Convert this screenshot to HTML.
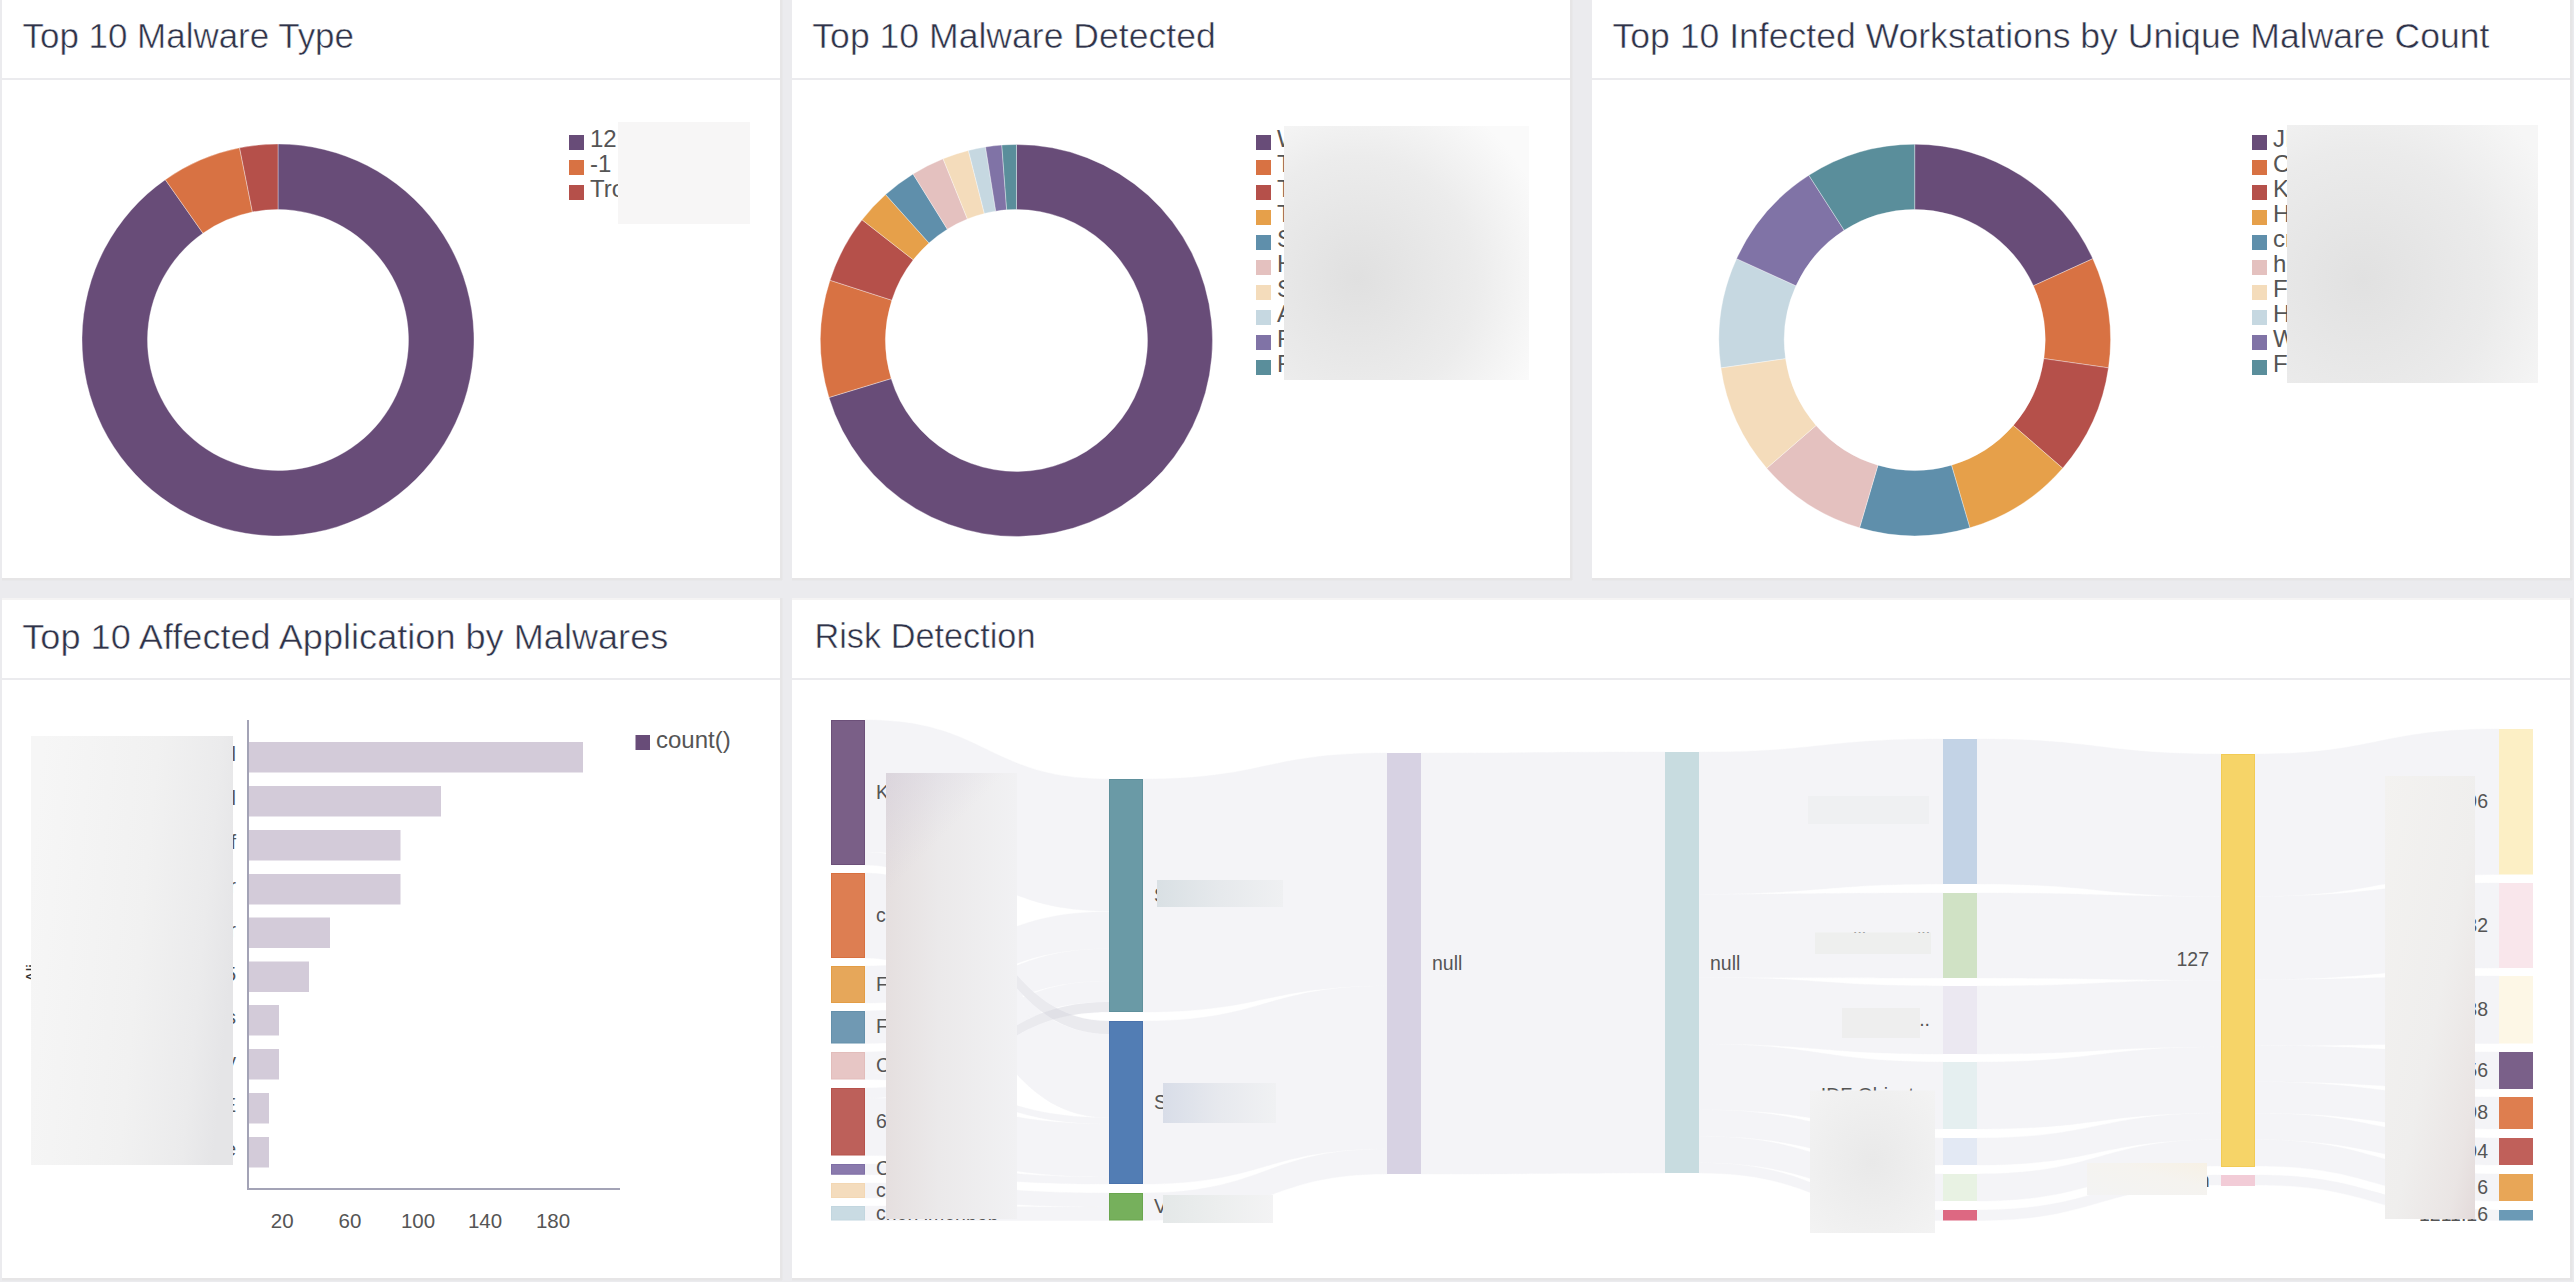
<!DOCTYPE html><html><head><meta charset="utf-8"><style>html,body{margin:0;padding:0;background:#ebebee;overflow:hidden}svg{display:block}</style></head><body><svg width="2574" height="1282" viewBox="0 0 2574 1282" font-family='"Liberation Sans", sans-serif'>
<defs>
<filter id="sh" x="-1%" y="-1%" width="102%" height="102%"><feDropShadow dx="1" dy="1" stdDeviation="1" flood-color="#000" flood-opacity="0.06"/></filter>
<linearGradient id="g2" x1="0" y1="0" x2="1" y2="0.3"><stop offset="0" stop-color="#e3e2e3"/><stop offset="0.45" stop-color="#e6e6e6"/><stop offset="1" stop-color="#fafafa"/></linearGradient>
<radialGradient id="g2r" cx="0.3" cy="0.6" r="0.8"><stop offset="0" stop-color="#e0e0e0"/><stop offset="0.6" stop-color="#ececec"/><stop offset="1" stop-color="#fafafa"/></radialGradient>
<radialGradient id="g3r" cx="0.3" cy="0.6" r="0.85"><stop offset="0" stop-color="#e1e1e1"/><stop offset="0.6" stop-color="#ebebeb"/><stop offset="1" stop-color="#f6f6f6"/></radialGradient>
<linearGradient id="g4r" x1="0" y1="0.3" x2="1" y2="0.5"><stop offset="0" stop-color="#f6f6f6"/><stop offset="0.55" stop-color="#f1f1f1"/><stop offset="0.85" stop-color="#ebebec"/><stop offset="1" stop-color="#e5e5e7"/></linearGradient>
<linearGradient id="g5a" x1="0" y1="0" x2="1" y2="0"><stop offset="0" stop-color="#e5dfdf"/><stop offset="0.4" stop-color="#ebe9ea"/><stop offset="1" stop-color="#f1f1f3"/></linearGradient>
<linearGradient id="g5b" x1="0" y1="0" x2="0.3" y2="1"><stop offset="0" stop-color="#c8c2d8" stop-opacity="0.35"/><stop offset="0.25" stop-color="#c8c2d8" stop-opacity="0"/></linearGradient>
<linearGradient id="gLbl" x1="0" y1="0" x2="1" y2="0"><stop offset="0" stop-color="#d9e0e4"/><stop offset="0.5" stop-color="#e6e9ec"/><stop offset="1" stop-color="#eff0f2"/></linearGradient>
<linearGradient id="gLbl2" x1="0" y1="0" x2="1" y2="0"><stop offset="0" stop-color="#d8dde8"/><stop offset="0.5" stop-color="#e7e9ee"/><stop offset="1" stop-color="#f0f1f3"/></linearGradient>
<linearGradient id="gLbl3" x1="0" y1="0" x2="1" y2="0"><stop offset="0" stop-color="#e4e8e8"/><stop offset="0.5" stop-color="#eceeee"/><stop offset="1" stop-color="#f3f3f4"/></linearGradient>
<linearGradient id="gR" x1="0" y1="0" x2="1" y2="1"><stop offset="0" stop-color="#f3f2f0"/><stop offset="0.55" stop-color="#efeeed"/><stop offset="0.85" stop-color="#eae5e4"/><stop offset="1" stop-color="#e3dada"/></linearGradient>
<linearGradient id="gN" x1="0" y1="1" x2="1" y2="0"><stop offset="0" stop-color="#f3f3f3"/><stop offset="0.6" stop-color="#f5f3ef"/><stop offset="1" stop-color="#f7f1e5"/></linearGradient>
<radialGradient id="gD" cx="0.5" cy="0.5" r="0.7"><stop offset="0" stop-color="#e9e9e9"/><stop offset="1" stop-color="#f3f3f3"/></radialGradient>
</defs>
<rect width="2574" height="1282" fill="#ebebee"/>
<rect x="2" y="578" width="780" height="2.5" fill="#e6e5e6"/>
<rect x="780" y="0" width="2.5" height="580" fill="#e6e5e6"/>
<rect x="2" y="0" width="778" height="578" fill="#ffffff"/>
<rect x="2" y="78" width="778" height="2" fill="#ebebee"/>
<rect x="792" y="578" width="780" height="2.5" fill="#e6e5e6"/>
<rect x="1570" y="0" width="2.5" height="580" fill="#e6e5e6"/>
<rect x="792" y="0" width="778" height="578" fill="#ffffff"/>
<rect x="792" y="78" width="778" height="2" fill="#ebebee"/>
<rect x="1592" y="578" width="980" height="2.5" fill="#e6e5e6"/>
<rect x="2570" y="0" width="2.5" height="580" fill="#e6e5e6"/>
<rect x="1592" y="0" width="978" height="578" fill="#ffffff"/>
<rect x="1592" y="78" width="978" height="2" fill="#ebebee"/>
<rect x="2" y="1278" width="780" height="2.5" fill="#e6e5e6"/>
<rect x="780" y="598" width="2.5" height="682" fill="#e6e5e6"/>
<rect x="2" y="598" width="778" height="680" fill="#ffffff"/>
<rect x="2" y="598" width="778" height="2" fill="#f4f3f3"/>
<rect x="2" y="678" width="778" height="2" fill="#ebebee"/>
<rect x="792" y="1278" width="1780" height="2.5" fill="#e6e5e6"/>
<rect x="2570" y="598" width="2.5" height="682" fill="#e6e5e6"/>
<rect x="792" y="598" width="1778" height="680" fill="#ffffff"/>
<rect x="792" y="598" width="1778" height="2" fill="#f4f3f3"/>
<rect x="792" y="678" width="1778" height="2" fill="#ebebee"/>
<text x="22.5" y="48" font-size="35.5" fill="#2f3349" stroke="#fff" stroke-width="0.5" textLength="331.5" lengthAdjust="spacingAndGlyphs">Top 10 Malware Type</text>
<text x="812.3" y="48" font-size="35.5" fill="#2f3349" stroke="#fff" stroke-width="0.5" textLength="403.5" lengthAdjust="spacingAndGlyphs">Top 10 Malware Detected</text>
<text x="1612.5" y="48" font-size="35.5" fill="#2f3349" stroke="#fff" stroke-width="0.5" textLength="877" lengthAdjust="spacingAndGlyphs">Top 10 Infected Workstations by Unique Malware Count</text>
<text x="22.3" y="648.5" font-size="35.5" fill="#2f3349" stroke="#fff" stroke-width="0.5" textLength="646" lengthAdjust="spacingAndGlyphs">Top 10 Affected Application by Malwares</text>
<text x="814.5" y="648" font-size="35.5" fill="#2f3349" stroke="#fff" stroke-width="0.5" textLength="221" lengthAdjust="spacingAndGlyphs">Risk Detection</text>
<path d="M278.00,144.00A196,196 0 1 1 165.30,179.64L202.96,233.23A130.5,130.5 0 1 0 278.00,209.50Z" fill="#684c78" stroke="#fff" stroke-width="0.35"/>
<path d="M165.30,179.64A196,196 0 0 1 239.59,147.80L252.43,212.03A130.5,130.5 0 0 0 202.96,233.23Z" fill="#d87243" stroke="#fff" stroke-width="0.35"/>
<path d="M239.59,147.80A196,196 0 0 1 278.00,144.00L278.00,209.50A130.5,130.5 0 0 0 252.43,212.03Z" fill="#b5504a" stroke="#fff" stroke-width="0.35"/>
<rect x="569" y="135" width="15" height="15" fill="#684c78"/>
<text x="590" y="146.5" font-size="24" fill="#555555">12</text>
<rect x="569" y="160" width="15" height="15" fill="#d87243"/>
<text x="590" y="171.5" font-size="24" fill="#555555">-1</text>
<rect x="569" y="185" width="15" height="15" fill="#b5504a"/>
<text x="590" y="196.5" font-size="24" fill="#555555">Tro</text>
<rect x="618" y="122" width="132" height="102" fill="#f7f6f6"/>
<path d="M1016.50,144.50A196,196 0 1 1 828.96,397.48L891.16,378.58A131,131 0 1 0 1016.50,209.50Z" fill="#684c78" stroke="#fff" stroke-width="0.35"/>
<path d="M828.96,397.48A196,196 0 0 1 829.99,280.26L891.84,300.24A131,131 0 0 0 891.16,378.58Z" fill="#d87243" stroke="#fff" stroke-width="0.35"/>
<path d="M829.99,280.26A196,196 0 0 1 862.05,219.83L913.27,259.85A131,131 0 0 0 891.84,300.24Z" fill="#b5504a" stroke="#fff" stroke-width="0.35"/>
<path d="M862.05,219.83A196,196 0 0 1 885.60,194.61L929.01,243.00A131,131 0 0 0 913.27,259.85Z" fill="#e6a04a" stroke="#fff" stroke-width="0.35"/>
<path d="M885.60,194.61A196,196 0 0 1 913.07,174.01L947.37,229.22A131,131 0 0 0 929.01,243.00Z" fill="#5f8fab" stroke="#fff" stroke-width="0.35"/>
<path d="M913.07,174.01A196,196 0 0 1 943.08,158.77L967.43,219.04A131,131 0 0 0 947.37,229.22Z" fill="#e4c1bf" stroke="#fff" stroke-width="0.35"/>
<path d="M943.08,158.77A196,196 0 0 1 968.42,150.49L984.36,213.50A131,131 0 0 0 967.43,219.04Z" fill="#f4dcbb" stroke="#fff" stroke-width="0.35"/>
<path d="M968.42,150.49A196,196 0 0 1 985.50,146.97L995.78,211.15A131,131 0 0 0 984.36,213.50Z" fill="#c6d8e1" stroke="#fff" stroke-width="0.35"/>
<path d="M985.50,146.97A196,196 0 0 1 1001.80,145.05L1006.68,209.87A131,131 0 0 0 995.78,211.15Z" fill="#8073a6" stroke="#fff" stroke-width="0.35"/>
<path d="M1001.80,145.05A196,196 0 0 1 1016.50,144.50L1016.50,209.50A131,131 0 0 0 1006.68,209.87Z" fill="#5a8e9b" stroke="#fff" stroke-width="0.35"/>
<rect x="1256" y="135" width="15" height="15" fill="#684c78"/>
<text x="1277" y="146.5" font-size="24" fill="#555555">W</text>
<rect x="1256" y="160" width="15" height="15" fill="#d87243"/>
<text x="1277" y="171.5" font-size="24" fill="#555555">T</text>
<rect x="1256" y="185" width="15" height="15" fill="#b5504a"/>
<text x="1277" y="196.5" font-size="24" fill="#555555">T</text>
<rect x="1256" y="210" width="15" height="15" fill="#e6a04a"/>
<text x="1277" y="221.5" font-size="24" fill="#555555">T</text>
<rect x="1256" y="235" width="15" height="15" fill="#5f8fab"/>
<text x="1277" y="246.5" font-size="24" fill="#555555">S</text>
<rect x="1256" y="260" width="15" height="15" fill="#e4c1bf"/>
<text x="1277" y="271.5" font-size="24" fill="#555555">H</text>
<rect x="1256" y="285" width="15" height="15" fill="#f4dcbb"/>
<text x="1277" y="296.5" font-size="24" fill="#555555">S</text>
<rect x="1256" y="310" width="15" height="15" fill="#c6d8e1"/>
<text x="1277" y="321.5" font-size="24" fill="#555555">A</text>
<rect x="1256" y="335" width="15" height="15" fill="#8073a6"/>
<text x="1277" y="346.5" font-size="24" fill="#555555">F</text>
<rect x="1256" y="360" width="15" height="15" fill="#5a8e9b"/>
<text x="1277" y="371.5" font-size="24" fill="#555555">F</text>
<rect x="1284" y="126" width="245" height="254" fill="url(#g2r)"/>
<path d="M1914.70,144.20A195.8,195.8 0 0 1 2092.81,258.66L2033.41,285.79A130.5,130.5 0 0 0 1914.70,209.50Z" fill="#684c78" stroke="#fff" stroke-width="0.35"/>
<path d="M2092.81,258.66A195.8,195.8 0 0 1 2108.51,367.87L2043.87,358.57A130.5,130.5 0 0 0 2033.41,285.79Z" fill="#d87243" stroke="#fff" stroke-width="0.35"/>
<path d="M2108.51,367.87A195.8,195.8 0 0 1 2062.68,468.22L2013.33,425.46A130.5,130.5 0 0 0 2043.87,358.57Z" fill="#b5504a" stroke="#fff" stroke-width="0.35"/>
<path d="M2062.68,468.22A195.8,195.8 0 0 1 1969.86,527.87L1951.47,465.21A130.5,130.5 0 0 0 2013.33,425.46Z" fill="#e6a04a" stroke="#fff" stroke-width="0.35"/>
<path d="M1969.86,527.87A195.8,195.8 0 0 1 1859.54,527.87L1877.93,465.21A130.5,130.5 0 0 0 1951.47,465.21Z" fill="#5f8fab" stroke="#fff" stroke-width="0.35"/>
<path d="M1859.54,527.87A195.8,195.8 0 0 1 1766.72,468.22L1816.07,425.46A130.5,130.5 0 0 0 1877.93,465.21Z" fill="#e4c1bf" stroke="#fff" stroke-width="0.35"/>
<path d="M1766.72,468.22A195.8,195.8 0 0 1 1720.89,367.87L1785.53,358.57A130.5,130.5 0 0 0 1816.07,425.46Z" fill="#f4dcbb" stroke="#fff" stroke-width="0.35"/>
<path d="M1720.89,367.87A195.8,195.8 0 0 1 1736.59,258.66L1795.99,285.79A130.5,130.5 0 0 0 1785.53,358.57Z" fill="#c6d8e1" stroke="#fff" stroke-width="0.35"/>
<path d="M1736.59,258.66A195.8,195.8 0 0 1 1808.84,175.28L1844.15,230.22A130.5,130.5 0 0 0 1795.99,285.79Z" fill="#8073a6" stroke="#fff" stroke-width="0.35"/>
<path d="M1808.84,175.28A195.8,195.8 0 0 1 1914.70,144.20L1914.70,209.50A130.5,130.5 0 0 0 1844.15,230.22Z" fill="#5a8e9b" stroke="#fff" stroke-width="0.35"/>
<rect x="2252" y="135" width="15" height="15" fill="#684c78"/>
<text x="2273" y="146.5" font-size="24" fill="#555555">JI</text>
<rect x="2252" y="160" width="15" height="15" fill="#d87243"/>
<text x="2273" y="171.5" font-size="24" fill="#555555">C</text>
<rect x="2252" y="185" width="15" height="15" fill="#b5504a"/>
<text x="2273" y="196.5" font-size="24" fill="#555555">K</text>
<rect x="2252" y="210" width="15" height="15" fill="#e6a04a"/>
<text x="2273" y="221.5" font-size="24" fill="#555555">H</text>
<rect x="2252" y="235" width="15" height="15" fill="#5f8fab"/>
<text x="2273" y="246.5" font-size="24" fill="#555555">cr</text>
<rect x="2252" y="260" width="15" height="15" fill="#e4c1bf"/>
<text x="2273" y="271.5" font-size="24" fill="#555555">h</text>
<rect x="2252" y="285" width="15" height="15" fill="#f4dcbb"/>
<text x="2273" y="296.5" font-size="24" fill="#555555">F</text>
<rect x="2252" y="310" width="15" height="15" fill="#c6d8e1"/>
<text x="2273" y="321.5" font-size="24" fill="#555555">H</text>
<rect x="2252" y="335" width="15" height="15" fill="#8073a6"/>
<text x="2273" y="346.5" font-size="24" fill="#555555">W</text>
<rect x="2252" y="360" width="15" height="15" fill="#5a8e9b"/>
<text x="2273" y="371.5" font-size="24" fill="#555555">F</text>
<rect x="2287" y="125" width="251" height="258" fill="url(#g3r)"/>
<rect x="249" y="742" width="334" height="30.5" fill="#d3cbd9"/>
<rect x="249" y="786" width="192" height="30.5" fill="#d3cbd9"/>
<rect x="249" y="830" width="151.5" height="30.5" fill="#d3cbd9"/>
<rect x="249" y="874" width="151.5" height="30.5" fill="#d3cbd9"/>
<rect x="249" y="917.5" width="81" height="30.5" fill="#d3cbd9"/>
<rect x="249" y="961.5" width="60" height="30.5" fill="#d3cbd9"/>
<rect x="249" y="1005" width="30" height="30.5" fill="#d3cbd9"/>
<rect x="249" y="1049" width="30" height="30.5" fill="#d3cbd9"/>
<rect x="249" y="1093" width="20" height="30.5" fill="#d3cbd9"/>
<rect x="249" y="1137" width="20" height="30.5" fill="#d3cbd9"/>
<rect x="247" y="720" width="2" height="470" fill="#a3a3b6"/>
<rect x="247" y="1188" width="373" height="2" fill="#a3a3b6"/>
<text x="282.2" y="1228" font-size="20.5" fill="#555555" text-anchor="middle">20</text>
<text x="350" y="1228" font-size="20.5" fill="#555555" text-anchor="middle">60</text>
<text x="418" y="1228" font-size="20.5" fill="#555555" text-anchor="middle">100</text>
<text x="485" y="1228" font-size="20.5" fill="#555555" text-anchor="middle">140</text>
<text x="553" y="1228" font-size="20.5" fill="#555555" text-anchor="middle">180</text>
<rect x="635.5" y="735" width="14.5" height="15" fill="#684c78"/>
<text x="656" y="748" font-size="24" fill="#555555">count()</text>
<text x="236" y="761" font-size="20" fill="#555555" text-anchor="end">l</text>
<text x="236" y="805" font-size="20" fill="#555555" text-anchor="end">l</text>
<text x="236" y="849" font-size="20" fill="#555555" text-anchor="end">f</text>
<text x="236" y="893" font-size="20" fill="#555555" text-anchor="end">r</text>
<text x="236" y="936.5" font-size="20" fill="#555555" text-anchor="end">r</text>
<text x="236" y="980.5" font-size="20" fill="#555555" text-anchor="end">5</text>
<text x="236" y="1024" font-size="20" fill="#555555" text-anchor="end">s</text>
<text x="236" y="1068" font-size="20" fill="#555555" text-anchor="end">y</text>
<text x="236" y="1112" font-size="20" fill="#555555" text-anchor="end">E</text>
<text x="236" y="1156" font-size="20" fill="#555555" text-anchor="end">e</text>
<text transform="translate(37.5,982) rotate(-90)" font-size="16" fill="#333">Ali</text>
<rect x="31" y="736" width="202" height="429" fill="url(#g4r)"/>
<path d="M865,720.00C987.0,720.00 987.0,779.00 1109,779.00L1109,911.00C987.0,911.00 987.0,852.00 865,852.00Z" fill="#f4f4f7" stroke="#f4f4f7" stroke-width="0.4"/>
<path d="M865,852.00C987.0,852.00 987.0,1021.00 1109,1021.00L1109,1034.00C987.0,1034.00 987.0,865.00 865,865.00Z" fill="#f4f4f7" stroke="#f4f4f7" stroke-width="0.4"/>
<path d="M865,873.00C987.0,873.00 987.0,1034.00 1109,1034.00L1109,1117.70C987.0,1117.70 987.0,958.00 865,958.00Z" fill="#f4f4f7" stroke="#f4f4f7" stroke-width="0.4"/>
<path d="M865,966.00C987.0,966.00 987.0,911.70 1109,911.70L1109,948.70C987.0,948.70 987.0,1003.00 865,1003.00Z" fill="#f4f4f7" stroke="#f4f4f7" stroke-width="0.4"/>
<path d="M865,1011.00C987.0,1011.00 987.0,948.70 1109,948.70L1109,981.00C987.0,981.00 987.0,1043.50 865,1043.50Z" fill="#f4f4f7" stroke="#f4f4f7" stroke-width="0.4"/>
<path d="M865,1052.00C987.0,1052.00 987.0,981.00 1109,981.00L1109,1002.00C987.0,1002.00 987.0,1073.00 865,1073.00Z" fill="#f4f4f7" stroke="#f4f4f7" stroke-width="0.4"/>
<path d="M865,1073.00C987.0,1073.00 987.0,1117.70 1109,1117.70L1109,1124.00C987.0,1124.00 987.0,1079.50 865,1079.50Z" fill="#f4f4f7" stroke="#f4f4f7" stroke-width="0.4"/>
<path d="M865,1088.00C987.0,1088.00 987.0,1002.00 1109,1002.00L1109,1012.00C987.0,1012.00 987.0,1098.00 865,1098.00Z" fill="#f4f4f7" stroke="#f4f4f7" stroke-width="0.4"/>
<path d="M865,1098.00C987.0,1098.00 987.0,1124.00 1109,1124.00L1109,1177.00C987.0,1177.00 987.0,1155.50 865,1155.50Z" fill="#f4f4f7" stroke="#f4f4f7" stroke-width="0.4"/>
<path d="M865,1164.00C987.0,1164.00 987.0,1177.00 1109,1177.00L1109,1184.00C987.0,1184.00 987.0,1174.70 865,1174.70Z" fill="#f4f4f7" stroke="#f4f4f7" stroke-width="0.4"/>
<path d="M865,1183.00C987.0,1183.00 987.0,1193.00 1109,1193.00L1109,1207.00C987.0,1207.00 987.0,1198.00 865,1198.00Z" fill="#f4f4f7" stroke="#f4f4f7" stroke-width="0.4"/>
<path d="M865,1206.00C987.0,1206.00 987.0,1207.00 1109,1207.00L1109,1220.50C987.0,1220.50 987.0,1220.50 865,1220.50Z" fill="#f4f4f7" stroke="#f4f4f7" stroke-width="0.4"/>
<clipPath id="cl12"><rect x="1017" y="700" width="92" height="540"/></clipPath><g clip-path="url(#cl12)">
<path d="M865,852.00C987.0,852.00 987.0,1021.00 1109,1021.00L1109,1034.00C987.0,1034.00 987.0,865.00 865,865.00Z" fill="#8a8aa0" fill-opacity="0.09"/>
<path d="M865,1088.00C987.0,1088.00 987.0,1002.00 1109,1002.00L1109,1012.00C987.0,1012.00 987.0,1098.00 865,1098.00Z" fill="#8a8aa0" fill-opacity="0.09"/>
</g>
<path d="M1143,779.00C1265.0,779.00 1265.0,753.00 1387,753.00L1387,986.00C1265.0,986.00 1265.0,1012.00 1143,1012.00Z" fill="#f4f4f7" stroke="#f4f4f7" stroke-width="0.4"/>
<path d="M1143,1021.00C1265.0,1021.00 1265.0,986.00 1387,986.00L1387,1149.00C1265.0,1149.00 1265.0,1184.00 1143,1184.00Z" fill="#f4f4f7" stroke="#f4f4f7" stroke-width="0.4"/>
<path d="M1143,1193.00C1265.0,1193.00 1265.0,1149.00 1387,1149.00L1387,1174.00C1265.0,1174.00 1265.0,1220.50 1143,1220.50Z" fill="#f4f4f7" stroke="#f4f4f7" stroke-width="0.4"/>
<path d="M1421,753.00C1543.0,753.00 1543.0,752.00 1665,752.00L1665,1173.00C1543.0,1173.00 1543.0,1174.00 1421,1174.00Z" fill="#f4f4f7" stroke="#f4f4f7" stroke-width="0.4"/>
<path d="M1699,752.00C1821.0,752.00 1821.0,739.00 1943,739.00L1943,884.00C1821.0,884.00 1821.0,894.13 1699,894.13Z" fill="#f4f4f7" stroke="#f4f4f7" stroke-width="0.4"/>
<path d="M1699,894.13C1821.0,894.13 1821.0,893.00 1943,893.00L1943,978.00C1821.0,978.00 1821.0,977.45 1699,977.45Z" fill="#f4f4f7" stroke="#f4f4f7" stroke-width="0.4"/>
<path d="M1699,977.45C1821.0,977.45 1821.0,986.00 1943,986.00L1943,1054.00C1821.0,1054.00 1821.0,1044.10 1699,1044.10Z" fill="#f4f4f7" stroke="#f4f4f7" stroke-width="0.4"/>
<path d="M1699,1044.10C1821.0,1044.10 1821.0,1062.00 1943,1062.00L1943,1129.00C1821.0,1129.00 1821.0,1109.78 1699,1109.78Z" fill="#f4f4f7" stroke="#f4f4f7" stroke-width="0.4"/>
<path d="M1699,1109.78C1821.0,1109.78 1821.0,1138.00 1943,1138.00L1943,1165.00C1821.0,1165.00 1821.0,1136.24 1699,1136.24Z" fill="#f4f4f7" stroke="#f4f4f7" stroke-width="0.4"/>
<path d="M1699,1136.24C1821.0,1136.24 1821.0,1174.00 1943,1174.00L1943,1201.00C1821.0,1201.00 1821.0,1162.71 1699,1162.71Z" fill="#f4f4f7" stroke="#f4f4f7" stroke-width="0.4"/>
<path d="M1699,1162.71C1821.0,1162.71 1821.0,1210.00 1943,1210.00L1943,1220.50C1821.0,1220.50 1821.0,1173.00 1699,1173.00Z" fill="#f4f4f7" stroke="#f4f4f7" stroke-width="0.4"/>
<path d="M1977,739.00C2099.0,739.00 2099.0,754.00 2221,754.00L2221,896.58C2099.0,896.58 2099.0,884.00 1977,884.00Z" fill="#f4f4f7" stroke="#f4f4f7" stroke-width="0.4"/>
<path d="M1977,893.00C2099.0,893.00 2099.0,896.58 2221,896.58L2221,980.16C2099.0,980.16 2099.0,978.00 1977,978.00Z" fill="#f4f4f7" stroke="#f4f4f7" stroke-width="0.4"/>
<path d="M1977,986.00C2099.0,986.00 2099.0,980.16 2221,980.16L2221,1047.02C2099.0,1047.02 2099.0,1054.00 1977,1054.00Z" fill="#f4f4f7" stroke="#f4f4f7" stroke-width="0.4"/>
<path d="M1977,1062.00C2099.0,1062.00 2099.0,1047.02 2221,1047.02L2221,1112.90C2099.0,1112.90 2099.0,1129.00 1977,1129.00Z" fill="#f4f4f7" stroke="#f4f4f7" stroke-width="0.4"/>
<path d="M1977,1138.00C2099.0,1138.00 2099.0,1112.90 2221,1112.90L2221,1139.45C2099.0,1139.45 2099.0,1165.00 1977,1165.00Z" fill="#f4f4f7" stroke="#f4f4f7" stroke-width="0.4"/>
<path d="M1977,1174.00C2099.0,1174.00 2099.0,1139.45 2221,1139.45L2221,1166.00C2099.0,1166.00 2099.0,1201.00 1977,1201.00Z" fill="#f4f4f7" stroke="#f4f4f7" stroke-width="0.4"/>
<path d="M1977,1210.00C2099.0,1210.00 2099.0,1175.00 2221,1175.00L2221,1185.00C2099.0,1185.00 2099.0,1220.50 1977,1220.50Z" fill="#f4f4f7" stroke="#f4f4f7" stroke-width="0.4"/>
<path d="M2255,754.00C2377.0,754.00 2377.0,729.00 2499,729.00L2499,874.50C2377.0,874.50 2377.0,896.39 2255,896.39Z" fill="#f4f4f7" stroke="#f4f4f7" stroke-width="0.4"/>
<path d="M2255,896.39C2377.0,896.39 2377.0,883.00 2499,883.00L2499,968.00C2377.0,968.00 2377.0,979.57 2255,979.57Z" fill="#f4f4f7" stroke="#f4f4f7" stroke-width="0.4"/>
<path d="M2255,979.57C2377.0,979.57 2377.0,976.00 2499,976.00L2499,1043.50C2377.0,1043.50 2377.0,1045.63 2255,1045.63Z" fill="#f4f4f7" stroke="#f4f4f7" stroke-width="0.4"/>
<path d="M2255,1045.63C2377.0,1045.63 2377.0,1052.00 2499,1052.00L2499,1089.00C2377.0,1089.00 2377.0,1081.84 2255,1081.84Z" fill="#f4f4f7" stroke="#f4f4f7" stroke-width="0.4"/>
<path d="M2255,1081.84C2377.0,1081.84 2377.0,1097.00 2499,1097.00L2499,1129.00C2377.0,1129.00 2377.0,1113.15 2255,1113.15Z" fill="#f4f4f7" stroke="#f4f4f7" stroke-width="0.4"/>
<path d="M2255,1113.15C2377.0,1113.15 2377.0,1138.00 2499,1138.00L2499,1165.00C2377.0,1165.00 2377.0,1139.58 2255,1139.58Z" fill="#f4f4f7" stroke="#f4f4f7" stroke-width="0.4"/>
<path d="M2255,1139.58C2377.0,1139.58 2377.0,1174.00 2499,1174.00L2499,1201.00C2377.0,1201.00 2377.0,1166.00 2255,1166.00Z" fill="#f4f4f7" stroke="#f4f4f7" stroke-width="0.4"/>
<path d="M2255,1175.00C2377.0,1175.00 2377.0,1210.00 2499,1210.00L2499,1220.50C2377.0,1220.50 2377.0,1185.00 2255,1185.00Z" fill="#f4f4f7" stroke="#f4f4f7" stroke-width="0.4"/>
<rect x="831.5" y="720.5" width="33" height="144" fill="#7a5f87" stroke="#6c5079" stroke-width="1"/>
<rect x="831.5" y="873.5" width="33" height="84" fill="#dd7e52" stroke="#d8703f" stroke-width="1"/>
<rect x="831.5" y="966.5" width="33" height="36" fill="#e6a75a" stroke="#e39d45" stroke-width="1"/>
<rect x="831.5" y="1011.5" width="33" height="31.5" fill="#7099b3" stroke="#6590ab" stroke-width="1"/>
<rect x="831.5" y="1052.5" width="33" height="26.5" fill="#e7c6c5" stroke="#e2bdbb" stroke-width="1"/>
<rect x="831.5" y="1088.5" width="33" height="66.5" fill="#bd605a" stroke="#b6524b" stroke-width="1"/>
<rect x="831.5" y="1164.5" width="33" height="9.700000000000045" fill="#8a7aad" stroke="#7f6fa6" stroke-width="1"/>
<rect x="831.5" y="1183.5" width="33" height="14" fill="#f4dcbd" stroke="#f3d7b3" stroke-width="1"/>
<rect x="831.5" y="1206.5" width="33" height="13.5" fill="#c9dbe3" stroke="#c2d6df" stroke-width="1"/>
<rect x="1109.5" y="779.5" width="33" height="232" fill="#6a9aa6" stroke="#5f909c" stroke-width="1"/>
<rect x="1109.5" y="1021.5" width="33" height="162" fill="#527db4" stroke="#4a73ad" stroke-width="1"/>
<rect x="1109.5" y="1193.5" width="33" height="26.5" fill="#76b05c" stroke="#6aa64f" stroke-width="1"/>
<rect x="1387" y="753" width="34" height="421" fill="#d7d2e3"/>
<rect x="1665" y="752" width="34" height="421" fill="#c8dce0"/>
<rect x="1943" y="739" width="34" height="145" fill="#c3d3e6"/>
<rect x="1943" y="893" width="34" height="85" fill="#d0e2c5"/>
<rect x="1943" y="986" width="34" height="68" fill="#ebe8f1"/>
<rect x="1943" y="1062" width="34" height="67" fill="#e5eff0"/>
<rect x="1943" y="1138" width="34" height="27" fill="#e3e9f4"/>
<rect x="1943" y="1174" width="34" height="27" fill="#e8f2e3"/>
<rect x="1943" y="1210" width="34" height="10.5" fill="#dd6882"/>
<rect x="2221.5" y="754.5" width="33" height="412" fill="#f6d468" stroke="#f2cb55" stroke-width="1"/>
<rect x="2221" y="1175" width="34" height="11" fill="#f2ccd7"/>
<rect x="2499" y="729" width="34" height="145.5" fill="#fcefc5"/>
<rect x="2499" y="883" width="34" height="85" fill="#f9e6eb"/>
<rect x="2499" y="976" width="34" height="67.5" fill="#fdf7e6"/>
<rect x="2499" y="1052" width="34" height="37" fill="#7a6089"/>
<rect x="2499" y="1097" width="34" height="32" fill="#de7e4f"/>
<rect x="2499" y="1138" width="34" height="27" fill="#c0605a"/>
<rect x="2499" y="1174" width="34" height="27" fill="#e8a657"/>
<rect x="2499" y="1210" width="34" height="10.5" fill="#6b9ab6"/>
<text x="876" y="798.5" font-size="19.5" fill="#555555" text-anchor="start">K</text>
<text x="876" y="921.5" font-size="19.5" fill="#555555" text-anchor="start">c</text>
<text x="876" y="990.5" font-size="19.5" fill="#555555" text-anchor="start">F</text>
<text x="876" y="1033.25" font-size="19.5" fill="#555555" text-anchor="start">F</text>
<text x="876" y="1071.75" font-size="19.5" fill="#555555" text-anchor="start">C</text>
<text x="876" y="1127.75" font-size="19.5" fill="#555555" text-anchor="start">6</text>
<text x="876" y="1175.35" font-size="19.5" fill="#555555" text-anchor="start">C</text>
<text x="876" y="1196.5" font-size="19.5" fill="#555555" text-anchor="start">c</text>
<text x="876" y="1220.25" font-size="19.5" fill="#555555" text-anchor="start">chen imenbob</text>
<text x="1154" y="901.5" font-size="19.5" fill="#555555" text-anchor="start">S</text>
<text x="1154" y="1108.5" font-size="19.5" fill="#555555" text-anchor="start">S</text>
<text x="1154" y="1213" font-size="19.5" fill="#555555" text-anchor="start">V</text>
<text x="1432" y="970" font-size="19.5" fill="#555555" text-anchor="start">null</text>
<text x="1710" y="970" font-size="19.5" fill="#555555" text-anchor="start">null</text>
<text x="2209" y="966.3" font-size="19.5" fill="#555555" text-anchor="end">127</text>
<text x="2209.5" y="1186.5" font-size="19.5" fill="#555555" text-anchor="end">n</text>
<text x="2488" y="807.75" font-size="19.5" fill="#555555" text-anchor="end">596</text>
<text x="2488" y="931.5" font-size="19.5" fill="#555555" text-anchor="end">532</text>
<text x="2488" y="1015.75" font-size="19.5" fill="#555555" text-anchor="end">138</text>
<text x="2488" y="1076.5" font-size="19.5" fill="#555555" text-anchor="end">156</text>
<text x="2488" y="1119.0" font-size="19.5" fill="#555555" text-anchor="end">598</text>
<text x="2488" y="1157.5" font-size="19.5" fill="#555555" text-anchor="end">594</text>
<text x="2488" y="1193.5" font-size="19.5" fill="#555555" text-anchor="end">6</text>
<text x="2488" y="1221.25" font-size="19.5" fill="#555555" text-anchor="end">1211.16</text>
<text x="1930" y="816" font-size="19.5" fill="#555555" text-anchor="end">.</text>
<text x="1930" y="947" font-size="19.5" fill="#555555" text-anchor="end">lib.....t.dll</text>
<text x="1930" y="1026" font-size="19.5" fill="#555555" text-anchor="end">..</text>
<text x="1914" y="1102" font-size="19.5" fill="#555555" text-anchor="end">IDF Object</text>
<rect x="886" y="773" width="131" height="446" fill="url(#g5a)"/>
<rect x="886" y="773" width="131" height="446" fill="url(#g5b)"/>
<rect x="1157" y="880" width="126" height="27" fill="url(#gLbl)"/>
<rect x="1163" y="1083" width="113" height="40" fill="url(#gLbl2)"/>
<rect x="1163" y="1195" width="110" height="28" fill="url(#gLbl3)"/>
<rect x="1808" y="796" width="121" height="28" fill="#eff0f2"/>
<rect x="1815" y="932.5" width="116" height="21.5" fill="#eeefee"/>
<rect x="1842" y="1008" width="78" height="30" fill="#eeeeee"/>
<rect x="1810" y="1090.5" width="125" height="142.5" fill="url(#gD)"/>
<rect x="2087" y="1163" width="120" height="32" fill="url(#gN)"/>
<rect x="2385" y="776" width="90" height="443" fill="url(#gR)"/>
</svg></body></html>
